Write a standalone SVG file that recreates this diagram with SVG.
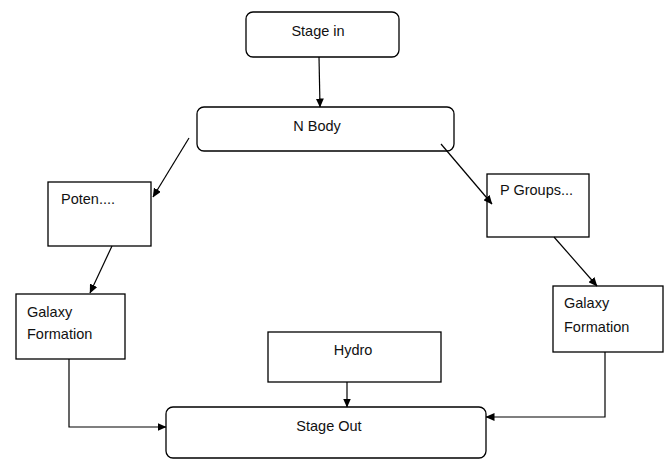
<svg xmlns="http://www.w3.org/2000/svg" width="667" height="459" viewBox="0 0 667 459">
<style>
.box{fill:#fff;stroke:#000;stroke-width:1.3}
.t{font-family:"Liberation Sans",Arial,sans-serif;font-size:14.5px;fill:#111}
.c{fill:none;stroke:#000;stroke-width:1.2}
</style>
<defs>
<marker id="ah" markerWidth="9" markerHeight="8" refX="8.5" refY="4" orient="auto" markerUnits="userSpaceOnUse">
<path d="M0,0 L9,4 L0,8 Z" fill="#000"/>
</marker>
</defs>
<rect width="667" height="459" fill="#fff"/>
<g id="stage-in"><rect class="box" x="246" y="12" width="153" height="45" rx="7"/><text class="t" x="318" y="36" text-anchor="middle">Stage in</text></g>
<g id="n-body"><rect class="box" x="197" y="107" width="257" height="44" rx="7"/><text class="t" x="317" y="131" text-anchor="middle">N Body</text></g>
<g id="poten"><rect class="box" x="48" y="182" width="103" height="64"/><text class="t" x="61" y="204">Poten....</text></g>
<g id="p-groups"><rect class="box" x="487" y="174" width="102" height="63"/><text class="t" x="500" y="195">P Groups...</text></g>
<g id="galaxy-left"><rect class="box" x="16" y="294" width="109" height="65"/><text class="t" x="27" y="317">Galaxy</text><text class="t" x="27" y="339">Formation</text></g>
<g id="galaxy-right"><rect class="box" x="553" y="286" width="110" height="66"/><text class="t" x="564" y="308">Galaxy</text><text class="t" x="564" y="332">Formation</text></g>
<g id="hydro"><rect class="box" x="268" y="332" width="173" height="50"/><text class="t" x="353" y="355" text-anchor="middle">Hydro</text></g>
<g id="stage-out"><rect class="box" x="166" y="407" width="320" height="51" rx="7"/><text class="t" x="329" y="431" text-anchor="middle">Stage Out</text></g>
<g id="connectors">
<path class="c" d="M319,57 L320,107" marker-end="url(#ah)"/>
<path class="c" d="M189,138 L153,197" marker-end="url(#ah)"/>
<path class="c" d="M441,144 L492,204" marker-end="url(#ah)"/>
<path class="c" d="M112,246 L90,293" marker-end="url(#ah)"/>
<path class="c" d="M554,237 L597,286" marker-end="url(#ah)"/>
<path class="c" d="M347,382 L347,407" marker-end="url(#ah)"/>
<path class="c" d="M69,359 L69,427 L166,427" marker-end="url(#ah)"/>
<path class="c" d="M605,352 L605,417 L486,417" marker-end="url(#ah)"/>
</g>
</svg>
